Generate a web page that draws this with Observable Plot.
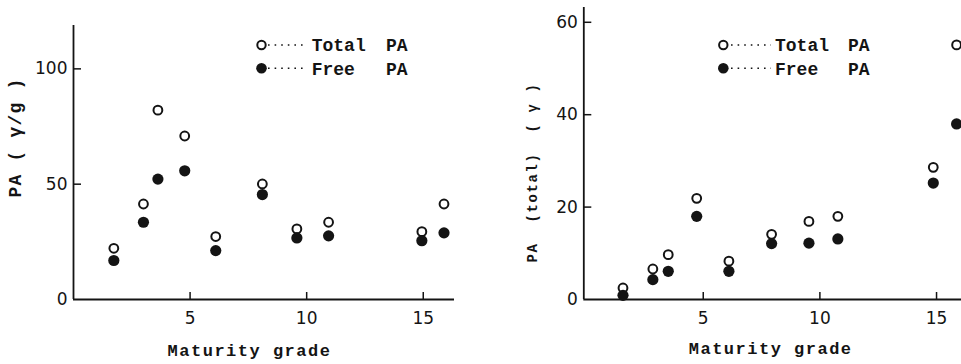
<!DOCTYPE html>
<html><head><meta charset="utf-8">
<script src="https://cdn.jsdelivr.net/npm/d3@7"></script>
<script src="https://cdn.jsdelivr.net/npm/@observablehq/plot@0.6"></script>
<style>
html,body{margin:0;padding:0;background:#fff;}
#wrap{position:relative;width:961px;height:364px;overflow:hidden;background:#fff;}
#left,#right{position:absolute;top:0;}
#left{left:0;} #right{left:480px;}
#legend{position:absolute;left:0;top:0;pointer-events:none;}
</style></head><body>
<div id="wrap"><div id="left"></div><div id="right"></div><svg id="legend" width="961" height="364"></svg></div>
<script>
// ---- data ----
const gradeA = [1.73, 3.0, 3.62, 4.77, 6.1, 8.1, 9.58, 10.94, 14.94, 15.89];
const totalA = [22.2, 41.4, 82.1, 70.9, 27.3, 50.1, 30.6, 33.5, 29.4, 41.4];
const freeA  = [16.9, 33.5, 52.2, 55.8, 21.2, 45.5, 26.7, 27.6, 25.5, 28.9];

const gradeB = [1.56, 2.84, 3.50, 4.72, 6.10, 7.93, 9.53, 10.77, 14.86, 15.86];
const totalB = [2.5, 6.6, 9.7, 21.9, 8.3, 14.1, 16.9, 18.0, 28.6, 55.1];
const freeB  = [0.9, 4.3, 6.1, 18.0, 6.1, 12.1, 12.2, 13.1, 25.2, 38.0];

const xTicks = [5, 10, 15];
const yTicksA = [0, 50, 100];
const yTicksB = [0, 20, 40, 60];

const xTitle = "Maturity grade";
const yLabelA = "PA ( γ/g )";
const yLabelB = "PA  (total)  ( γ )";
const seriesNames = ["Total", "Free"];
const unitName = "PA";

const ink = "#141414";
const H = 364;

function panel(o) {
  const frameH = H - o.mt - o.mb;
  const frameW = o.width - o.ml - o.mr;
  const rows = o.grade.map((g, i) => ({grade: g, total: o.total[i], free: o.free[i]}));
  const svg = Plot.plot({
    width: o.width, height: H,
    marginLeft: o.ml, marginRight: o.mr, marginTop: o.mt, marginBottom: o.mb,
    x: {domain: o.xDomain},
    y: {domain: o.yDomain},
    style: {background: "transparent", color: ink, overflow: "visible"},
    marks: [
      Plot.ruleX([o.xDomain[0]], {stroke: ink, strokeWidth: 1.8}),
      Plot.ruleY([0], {stroke: ink, strokeWidth: 1.8}),
      Plot.ruleX(xTicks, {insetTop: frameH - 7, stroke: ink, strokeWidth: 1.5}),
      Plot.ruleY(o.yTicks.filter(d => d > 0), {insetRight: frameW - 8, stroke: ink, strokeWidth: 1.5}),
      Plot.axisX(xTicks, {tickSize: 0, tickPadding: 12, fontSize: 17, fontFamily: "DejaVu Sans", label: null, fill: ink}),
      Plot.axisY(o.yTicks, {tickSize: 0, tickPadding: 6, fontSize: 17, fontFamily: "DejaVu Sans", label: null, fill: ink}),
      Plot.dot(rows, {x: "grade", y: "total", r: 4.4, stroke: ink, strokeWidth: 2, fill: "white"}),
      Plot.dot(rows, {x: "grade", y: "free", r: 5.6, fill: ink, stroke: null}),
      Plot.text([o.yLabel], {text: d => d, frameAnchor: "left", textAnchor: "middle", lineAnchor: "middle",
        rotate: -90, dx: o.ylDx, dy: o.ylDy,
        fontFamily: "Liberation Mono", fontWeight: "bold", fontSize: o.ylSize, fill: ink}),
      Plot.text([xTitle], {text: d => d, frameAnchor: "bottom", textAnchor: "middle", lineAnchor: "middle",
        dx: o.xtDx, dy: o.xtDy,
        fontFamily: "Liberation Mono", fontWeight: "bold", fontSize: 17, fill: ink})
    ]
  });
  d3.select(svg).selectAll("text").each(function() {
    const t = this.textContent;
    if (t === o.yLabel) this.style.letterSpacing = o.ylSpacing + "px";
    if (t === xTitle) this.style.letterSpacing = "1.5px";
  });
  return svg;
}

document.getElementById("left").append(panel({
  grade: gradeA, total: totalA, free: freeA, yTicks: yTicksA,
  width: 480, ml: 73, mr: 26, mt: 25, mb: 65,
  xDomain: [0, 16.34], yDomain: [0, 118.8],
  yLabel: yLabelA, ylSize: 18, ylSpacing: 1.2, ylDx: -58, ylDy: -25,
  xtDx: -14.5, xtDy: 51
}));

document.getElementById("right").append(panel({
  grade: gradeB, total: totalB, free: freeB, yTicks: yTicksB,
  width: 481, ml: 103.3, mr: 0, mt: 7, mb: 65,
  xDomain: [-0.12, 16.07], yDomain: [0, 63.2],
  yLabel: yLabelB, ylSize: 14, ylSpacing: 1.6, ylDx: -51.6, ylDy: 19,
  xtDx: -2, xtDy: 49
}));

// ---- legends (one per panel) ----
const legendPlaces = [
  {cx: 261.5, y0: 45, step: 23.3, l0: 268, l1: 305, tx: 311.7, ux: 386},
  {cx: 723.3, y0: 45, step: 23.3, l0: 731, l1: 771, tx: 775, ux: 848}
];
const lg = d3.select("#legend");
legendPlaces.forEach(p => {
  seriesNames.forEach((name, i) => {
    const y = p.y0 + i * p.step;
    const filled = i === 1;
    lg.append("circle").attr("cx", p.cx).attr("cy", y)
      .attr("r", filled ? 5.3 : 4.2)
      .attr("fill", filled ? ink : "white")
      .attr("stroke", filled ? "none" : ink).attr("stroke-width", 2);
    lg.append("line").attr("x1", p.l0).attr("x2", p.l1).attr("y1", y).attr("y2", y)
      .attr("stroke", ink).attr("stroke-width", 1.6).attr("stroke-dasharray", "1.6,5");
    lg.append("text").attr("x", p.tx).attr("y", y).attr("dy", "0.35em")
      .attr("font-family", "Liberation Mono").attr("font-weight", "bold").attr("font-size", 18)
      .attr("fill", ink).text(name);
    lg.append("text").attr("x", p.ux).attr("y", y).attr("dy", "0.35em")
      .attr("font-family", "Liberation Mono").attr("font-weight", "bold").attr("font-size", 18)
      .attr("fill", ink).text(unitName);
  });
});
</script>
</body></html>
